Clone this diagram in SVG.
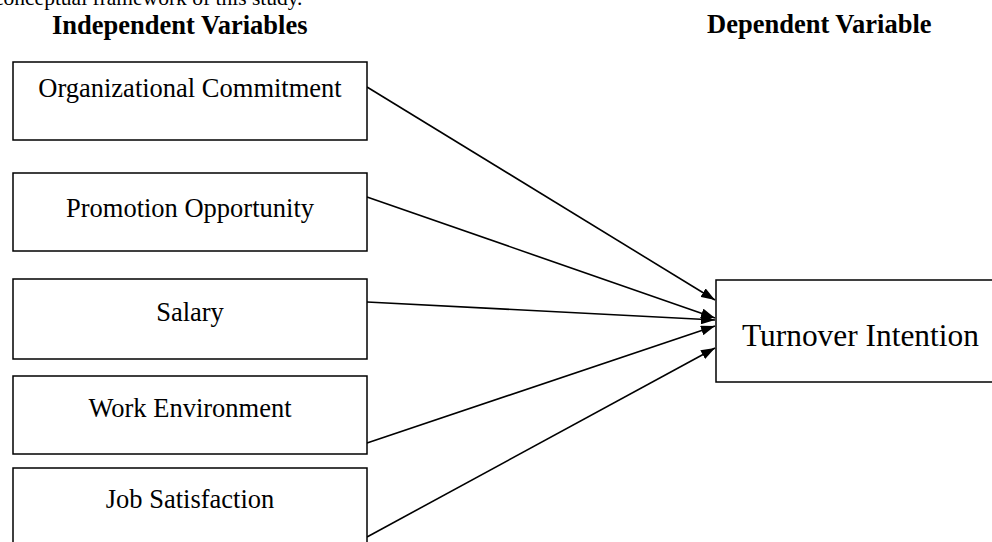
<svg xmlns="http://www.w3.org/2000/svg" width="992" height="542" viewBox="0 0 992 542">
<style>
.box{fill:#fff;stroke:#000;stroke-width:1.5}
.lbl{font-family:"Liberation Serif","Times New Roman",serif;font-size:26.5px;fill:#000;text-anchor:middle}
.hd{font-family:"Liberation Serif","Times New Roman",serif;font-size:26.5px;font-weight:bold;fill:#000}
.edge{stroke:#000;stroke-width:1.6;fill:none;marker-end:url(#ah)}
</style>
<defs>
<marker id="ah" viewBox="0 0 14 10" refX="14" refY="5" markerWidth="14" markerHeight="10" markerUnits="userSpaceOnUse" orient="auto">
<path d="M0,0 L14,5 L0,10 Z" fill="#000"/>
</marker>
</defs>
<rect width="992" height="542" fill="#fff"/>
<text x="-6" y="5" font-family="Liberation Serif, serif" font-size="21.5" fill="#000">conceptual framework of this study.</text>
<text class="hd" x="52" y="34">Independent Variables</text>
<text class="hd" x="707" y="33">Dependent Variable</text>
<g id="edges">
<line class="edge" x1="367" y1="87" x2="715" y2="300"/>
<line class="edge" x1="367" y1="197" x2="715" y2="318"/>
<line class="edge" x1="367" y1="302" x2="715" y2="320"/>
<line class="edge" x1="367" y1="443" x2="715" y2="326"/>
<line class="edge" x1="367" y1="537" x2="715" y2="348"/>
</g>
<g id="n1"><rect class="box" x="13" y="62" width="354" height="78"/><text class="lbl" x="190" y="97">Organizational Commitment</text></g>
<g id="n2"><rect class="box" x="13" y="173" width="354" height="78"/><text class="lbl" x="190" y="217">Promotion Opportunity</text></g>
<g id="n3"><rect class="box" x="13" y="279" width="354" height="80"/><text class="lbl" x="190" y="321">Salary</text></g>
<g id="n4"><rect class="box" x="13" y="376" width="354" height="78"/><text class="lbl" x="190" y="417">Work Environment</text></g>
<g id="n5"><rect class="box" x="13" y="468" width="354" height="90"/><text class="lbl" x="190" y="508">Job Satisfaction</text></g>
<g id="n6"><rect class="box" x="716" y="280" width="290" height="102"/><text x="742" y="346" font-family="Liberation Serif, serif" font-size="31.4" fill="#000">Turnover Intention</text></g>
</svg>
